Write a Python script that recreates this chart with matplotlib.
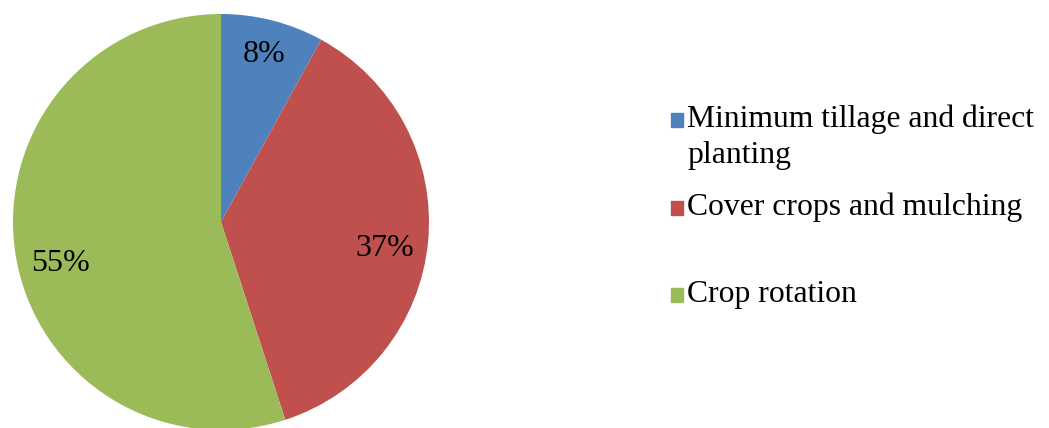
import matplotlib.pyplot as plt
from matplotlib.patches import Rectangle

labels = ['Minimum tillage and direct\nplanting', 'Cover crops and mulching', 'Crop rotation']
shares = [8, 37, 55]
colors = ['#4F81BD', '#C0504D', '#9BBB59']

plt.rcParams['font.family'] = ['Liberation Serif', 'DejaVu Serif']

fig = plt.figure(figsize=(10.49, 4.28), dpi=100)

# pie axes: centre ~ (221, 206) px from bottom-left, radius ~208 px
W, H = 1049, 428
r = 208
ax = fig.add_axes([(221 - r) / W, (206 - r) / H, 2 * r / W, 2 * r / H])
wedges, texts, autotexts = ax.pie(
    shares, colors=colors, startangle=90, counterclock=False,
    autopct='%1.0f%%', pctdistance=0.8,
    wedgeprops=dict(linewidth=0),
    textprops=dict(fontsize=23, color='black'))
ax.set_aspect('equal')
ax.set_xlim(-1, 1)
ax.set_ylim(-1, 1)

# nudge the percent labels to where Excel put them
nudges = [(0.01, 0.03), (-0.01, -0.05), (0.02, -0.075)]
for t, (dx, dy) in zip(autotexts, nudges):
    x, y = t.get_position()
    t.set_position((x + dx, y + dy))

# legend drawn by hand to keep Excel's uneven spacing
baselines = [127, 215, 302]
for lab, col, yb in zip(labels, colors, baselines):
    fig.patches.append(Rectangle((671 / W, (428 - yb) / H), 12 / W, 14 / H,
                                 transform=fig.transFigure, color=col))
    lines = lab.split('\n')
    for i, line in enumerate(lines):
        fig.text(687 / W, (428 - yb - i * 36) / H, line, fontsize=22.8,
                 va='baseline', ha='left')

fig.savefig('out.png', dpi=100)
